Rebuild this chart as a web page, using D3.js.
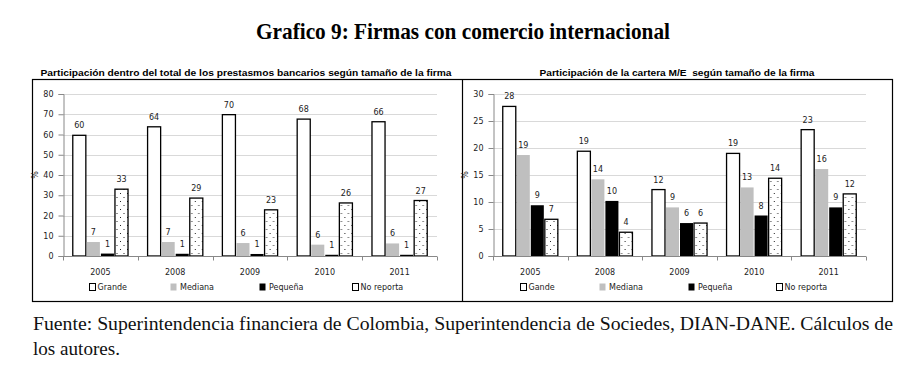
<!DOCTYPE html>
<html lang="es">
<head>
<meta charset="UTF-8">
<title>Grafico 9: Firmas con comercio internacional</title>
<script src="https://d3js.org/d3.v7.min.js"></script>
<style>
  body { margin: 0; background: #fff; }
  svg { display: block; }
</style>
</head>
<body>
<div id="chart"></div>
<script>
// data
const years = ["2005", "2008", "2009", "2010", "2011"];
const seriesLeft = ["Grande", "Mediana", "Pequeña", "No reporta"];
const seriesRight = ["Gande", "Mediana", "Pequeña", "No reporta"];

// participación en préstamos bancarios (%)
const prestGrande   = [59.6, 63.8, 69.8, 67.6, 66.3];
const prestMediana  = [6.9, 6.9, 6.4, 5.6, 6.2];
const prestPequena  = [1.2, 1.1, 1.0, 0.6, 0.6];
const prestNoReporta = [33.0, 28.6, 22.8, 26.2, 27.4];

// participación cartera M/E (%)
const meGrande   = [27.7, 19.4, 12.3, 19.0, 23.4];
const meMediana  = [18.7, 14.2, 9.0, 12.7, 16.1];
const mePequena  = [9.4, 10.2, 6.1, 7.5, 9.0];
const meNoReporta = [6.8, 4.4, 6.1, 14.4, 11.5];

const leftTicks = [0, 10, 20, 30, 40, 50, 60, 70, 80];
const rightTicks = [0, 5, 10, 15, 20, 25, 30];

const W = 914, H = 366;
const svg = d3.select("#chart").append("svg")
  .attr("width", W).attr("height", H)
  .style("font-family", "'Liberation Sans', Arial, sans-serif");

svg.append("rect").attr("width", W).attr("height", H).attr("fill", "#fff");

// dotted pattern for "No reporta"
const defs = svg.append("defs");
const pat = defs.append("pattern")
  .attr("id", "dots").attr("patternUnits", "userSpaceOnUse")
  .attr("width", 7).attr("height", 8);
pat.append("rect").attr("width", 7).attr("height", 8).attr("fill", "#fff");
pat.append("rect").attr("x", 1).attr("y", 1).attr("width", 1).attr("height", 1).attr("fill", "#222");
pat.append("rect").attr("x", 4.5).attr("y", 5).attr("width", 1).attr("height", 1).attr("fill", "#222");

// main title
svg.append("text")
  .attr("x", 463).attr("y", 39)
  .attr("text-anchor", "middle")
  .style("font-family", "'Liberation Serif', 'Times New Roman', serif")
  .style("font-weight", "bold")
  .style("font-size", "23px")
  .attr("textLength", 414).attr("lengthAdjust", "spacingAndGlyphs")
  .text("Grafico 9: Firmas con comercio internacional");

// frame
svg.append("rect")
  .attr("x", 32.5).attr("y", 79.5).attr("width", 860).attr("height", 222)
  .attr("fill", "none").attr("stroke", "#000").attr("stroke-width", 1.2);
svg.append("line")
  .attr("x1", 462.5).attr("x2", 462.5).attr("y1", 79.5).attr("y2", 301.5)
  .attr("stroke", "#000").attr("stroke-width", 1.2);

const fills = ["#fff", "#bfbfbf", "#000", "url(#dots)"];
const strokes = ["#000", "none", "none", "#000"];

function panel(opts) {
  const g = svg.append("g");
  const y = d3.scaleLinear().domain(opts.domain).range([256, 94]);
  const x0 = d3.scaleBand().domain(years).range([opts.left, opts.right]).padding(0);
  const x1 = d3.scaleBand().domain(d3.range(4)).range([0, x0.bandwidth()])
    .paddingInner(0).paddingOuter(0.66);

  // subtitle
  g.append("text")
    .attr("x", opts.titleX).attr("y", 76)
    .attr("text-anchor", "middle")
    .attr("xml:space", "preserve")
    .style("font-weight", "bold").style("font-size", "9px")
    .attr("textLength", opts.titleLen).attr("lengthAdjust", "spacingAndGlyphs")
    .text(opts.title);

  // grid
  g.append("g").selectAll("line").data(opts.ticks.slice(1)).join("line")
    .attr("x1", opts.left).attr("x2", opts.right)
    .attr("y1", d => Math.round(y(d)) + 0.5).attr("y2", d => Math.round(y(d)) + 0.5)
    .attr("stroke", "#d9d9d9").attr("stroke-width", 1);

  // y axis
  const yAxis = g.append("g")
    .attr("transform", `translate(${opts.left + 0.5},0)`)
    .call(d3.axisLeft(y).tickValues(opts.ticks).tickSize(5).tickPadding(5).tickFormat(d3.format("d")));
  yAxis.selectAll("path, line").attr("stroke", "#888");
  yAxis.selectAll("text").attr("fill", "#222")
    .style("font-family", "'DejaVu Sans', sans-serif").style("font-size", "8px");

  // "%" label
  g.append("text")
    .attr("transform", `translate(${opts.left - 25},${y(opts.domain[1] / 2)}) rotate(-90)`)
    .attr("text-anchor", "middle")
    .style("font-family", "'DejaVu Sans', sans-serif").style("font-size", "8px")
    .attr("fill", "#222")
    .text("%");

  // bars
  const groups = g.append("g").selectAll("g").data(years).join("g")
    .attr("transform", d => `translate(${x0(d)},0)`);
  groups.selectAll("rect")
    .data((d, i) => opts.values.map((s, k) => ({ k, v: s[i] })))
    .join("rect")
    .attr("x", d => x1(d.k) + 0.5)
    .attr("y", d => y(d.v))
    .attr("width", x1.bandwidth() - 1)
    .attr("height", d => y(0) - y(d.v))
    .attr("fill", d => fills[d.k])
    .attr("stroke", d => strokes[d.k])
    .attr("stroke-width", 1.3);
  groups.selectAll("text")
    .data((d, i) => opts.values.map((s, k) => ({ k, v: s[i] })))
    .join("text")
    .attr("x", d => x1(d.k) + x1.bandwidth() / 2)
    .attr("y", d => y(d.v) - 7)
    .attr("text-anchor", "middle")
    .style("font-family", "'DejaVu Sans', sans-serif").style("font-size", "8px")
    .attr("fill", "#222")
    .text(d => d3.format(".0f")(d.v));

  // x axis
  const xAxis = g.append("g").attr("transform", `translate(0,${y(0) + 0.5})`);
  xAxis.append("line").attr("x1", opts.left).attr("x2", opts.right).attr("stroke", "#888");
  const bounds = years.map(d => x0(d)).concat([opts.right]);
  xAxis.selectAll("line.tk").data(bounds).join("line").attr("class", "tk")
    .attr("x1", d => Math.round(d) + 0.5).attr("x2", d => Math.round(d) + 0.5)
    .attr("y1", 0).attr("y2", 4).attr("stroke", "#888");
  xAxis.selectAll("text").data(years).join("text")
    .attr("x", d => x0(d) + x0.bandwidth() / 2)
    .attr("y", 18)
    .attr("text-anchor", "middle")
    .style("font-family", "'DejaVu Sans', sans-serif").style("font-size", "8px")
    .attr("fill", "#222")
    .text(d => d);

  // legend
  const leg = g.append("g").selectAll("g").data(opts.series).join("g")
    .attr("transform", (d, i) => `translate(${opts.legendX[i]},290)`);
  leg.append("rect")
    .attr("x", 0.5).attr("y", -6.5).attr("width", 6).attr("height", 7)
    .attr("fill", (d, i) => i === 3 ? "#fff" : fills[i])
    .attr("stroke", (d, i) => (i === 0 || i === 3) ? "#000" : "none")
    .attr("stroke-width", 1);
  leg.append("text")
    .attr("x", (d, i) => (i === 0 || i === 3) ? 8.5 : 10)
    .attr("y", 0)
    .style("font-family", "'DejaVu Sans', sans-serif").style("font-size", "8px")
    .attr("fill", "#222")
    .text(d => d);
}

panel({
  left: 63, right: 437, domain: [0, 80], ticks: leftTicks,
  values: [prestGrande, prestMediana, prestPequena, prestNoReporta],
  series: seriesLeft,
  title: "Participación dentro del total de los prestasmos bancarios según tamaño de la firma",
  titleX: 246, titleLen: 411,
  legendX: [89, 170, 259, 352]
});

panel({
  left: 493, right: 866, domain: [0, 30], ticks: rightTicks,
  values: [meGrande, meMediana, mePequena, meNoReporta],
  series: seriesRight,
  title: "Participación de la cartera M/E  según tamaño de la firma",
  titleX: 677, titleLen: 275,
  legendX: [520, 599, 688, 776]
});

// source note
const note = svg.append("g")
  .style("font-family", "'Liberation Serif', 'Times New Roman', serif")
  .style("font-size", "19px").attr("fill", "#111");
note.append("text").attr("x", 33).attr("y", 330)
  .attr("textLength", 860).attr("lengthAdjust", "spacingAndGlyphs")
  .text("Fuente: Superintendencia financiera de Colombia, Superintendencia de Sociedes, DIAN-DANE. Cálculos de");
note.append("text").attr("x", 33).attr("y", 355)
  .attr("textLength", 87).attr("lengthAdjust", "spacingAndGlyphs")
  .text("los autores.");
</script>
</body>
</html>
